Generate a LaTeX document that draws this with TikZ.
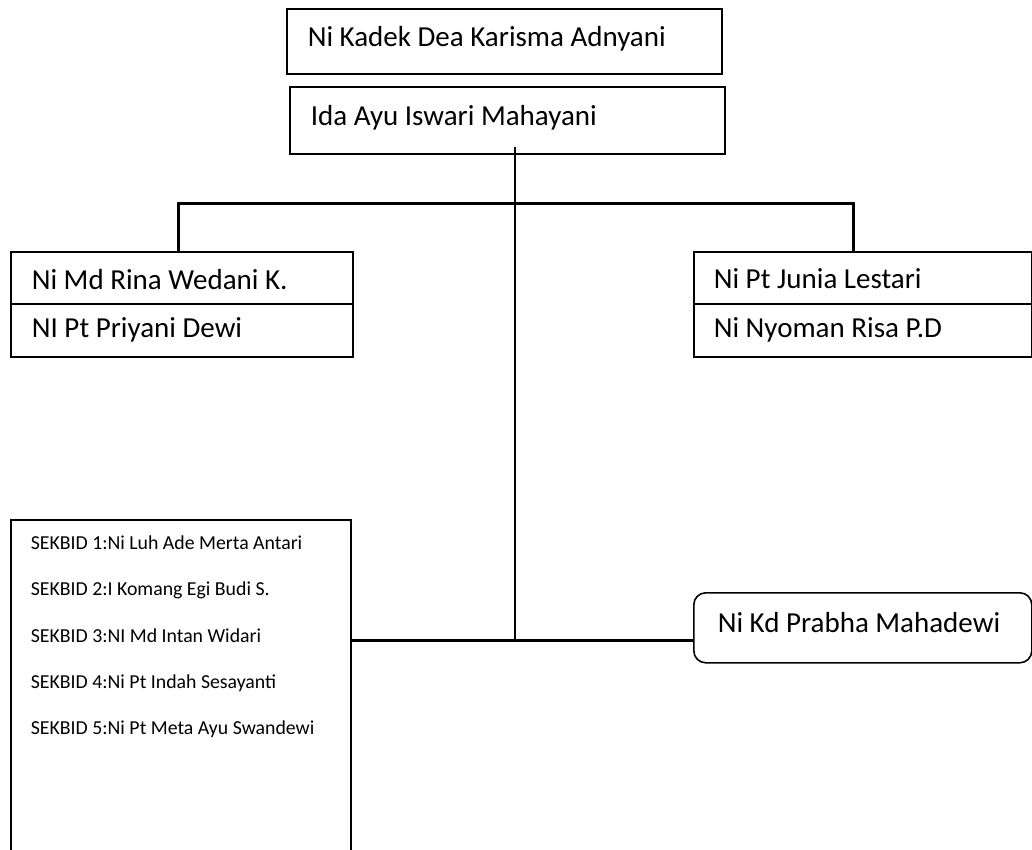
\documentclass[tikz,border=0pt]{standalone}
\usepackage{fontspec}
\setmainfont{Carlito}
\usetikzlibrary{calc}
\tikzset{
  namebox/.style={draw,line width=1.6pt,anchor=north west,inner xsep=21pt,inner ysep=0pt,
    font=\fontsize{29}{32}\selectfont,text height=18pt,text depth=7pt},
  sekbox/.style={draw,line width=1.6pt,anchor=north west,inner xsep=20pt,inner ysep=16pt,
    font=\fontsize{19.8}{46.3}\selectfont},
  thickline/.style={line width=3pt},
  thinline/.style={line width=1.4pt},
}
\begin{document}
\begin{tikzpicture}[x=1pt,y=-1pt]
\useasboundingbox (0,0) rectangle (1032,850);
\clip (0,0) rectangle (1032,850);
% ketua dan wakil
\node[namebox,minimum height=65] (kadek) at (286,8) {\makebox[393pt][l]{Ni Kadek Dea Karisma Adnyani}};
\node[namebox,minimum height=67] (ida) at (289,86) {\makebox[393pt][l]{Ida Ayu Iswari Mahayani}};
% sekretaris dan bendahara
\node[namebox,minimum height=52,text height=24pt,text depth=0pt] (wedani) at (10,251) {\makebox[300pt][l]{Ni Md Rina Wedani K.}};
\node[namebox,minimum height=53,text height=18pt,text depth=3pt] (priyani) at (10,303) {\makebox[300pt][l]{NI Pt Priyani Dewi}};
\node[namebox,minimum height=52,inner xsep=20pt,text height=23pt,text depth=1pt] (junia) at (693,251) {\makebox[298pt][l]{Ni Pt Junia Lestari}};
\node[namebox,minimum height=53,inner xsep=20pt,text height=18pt,text depth=3pt] (risa) at (693,303) {\makebox[298pt][l]{Ni Nyoman Risa P.D}};
% sekbid
\node[sekbox] (sekbid) at (10,519) {\parbox[t][380pt][t]{300pt}{%
SEKBID 1:Ni Luh Ade Merta Antari\\
SEKBID 2:I Komang Egi Budi S.\\
SEKBID 3:NI Md Intan Widari\\
SEKBID 4:Ni Pt Indah Sesayanti\\
SEKBID 5:Ni Pt Meta Ayu Swandewi}};
\node[namebox,rounded corners=12pt,minimum height=70,inner xsep=24pt,text height=17pt,text depth=7pt] (prabha) at (693,592) {\makebox[290pt][l]{Ni Kd Prabha Mahadewi}};
% garis
\coordinate (hub) at (515,640);
\coordinate (forkL) at (178,204);
\coordinate (forkR) at (853,204);
\draw[thinline] ($(ida.south -| hub)+(0,-8)$) -- (hub);
\draw[thickline] (wedani.north -| forkL) -- (forkL) -- (forkR) -- (junia.north -| forkR);
\draw[thickline] (sekbid.east |- hub) -- (prabha.west |- hub);
\end{tikzpicture}
\end{document}
